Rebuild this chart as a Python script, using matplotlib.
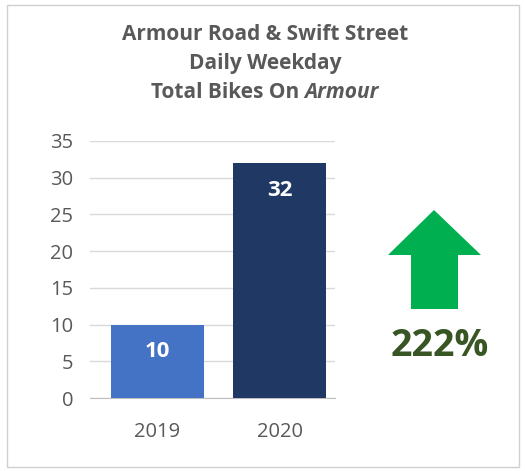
import matplotlib
matplotlib.use("Agg")
import matplotlib.pyplot as plt
from matplotlib.patches import Polygon, Rectangle

years = ["2019", "2020"]
bikes = [10, 32]
bar_colors = ["#4472C4", "#1F3864"]
y_ticks = [0, 5, 10, 15, 20, 25, 30, 35]
change_label = "222%"

plt.rcParams["font.family"] = ["Open Sans", "DejaVu Sans"]

W, H = 525, 471
fig = plt.figure(figsize=(W / 100, H / 100), dpi=100)
fig.patch.set_facecolor("white")

# outer frame
fig.patches.append(Rectangle((7 / W, 4 / H), 512 / W, 462 / H, transform=fig.transFigure,
                             fill=False, edgecolor="#D0D0D0", linewidth=1.0))

ax = fig.add_axes([90 / W, 1 - 398 / H, 245 / W, (398 - 141) / H])
x = range(len(years))
bars = ax.bar(x, bikes, width=0.76, color=bar_colors, zorder=3)
ax.set_xlim(-0.55, 1.45)
ax.set_ylim(0, 35)
ax.set_yticks(y_ticks)
ax.set_xticks(list(x))
ax.set_xticklabels(years)
ax.yaxis.grid(True, color="#D9D9D9", linewidth=1.0, zorder=0)
for s in ["top", "right", "left"]:
    ax.spines[s].set_visible(False)
ax.spines["bottom"].set_color("#BFBFBF")
ax.tick_params(axis="both", length=0, labelsize=14.5, labelcolor="#595959")
ax.tick_params(axis="y", pad=12)
ax.tick_params(axis="x", pad=17)

for rect, v in zip(bars, bikes):
    ax.annotate(str(v), (rect.get_x() + rect.get_width() / 2, v),
                xytext=(0, -12), textcoords="offset points", ha="center", va="top",
                color="white", fontsize=16, fontweight="bold")

# title
tsize = 15
title_lines = ["Armour Road & Swift Street", "Daily Weekday"]
fig.text(265 / W, 1 - 40 / H, title_lines[0], ha="center", va="baseline",
         fontsize=tsize, fontweight="bold", color="#595959")
fig.text(265 / W, 1 - 69 / H, title_lines[1], ha="center", va="baseline",
         fontsize=tsize, fontweight="bold", color="#595959")
t1 = fig.text(0, 1 - 98 / H, "Total Bikes On ", ha="left", va="baseline",
              fontsize=tsize, fontweight="bold", color="#595959")
t2 = fig.text(0, 1 - 98 / H, "Armour", ha="left", va="baseline",
              fontsize=tsize, fontweight="bold", fontstyle="italic", color="#595959")
fig.canvas.draw()
r = fig.canvas.get_renderer()
w1 = t1.get_window_extent(r).width
w2 = t2.get_window_extent(r).width
start = 265 - (w1 + w2) / 2
t1.set_x(start / W)
t2.set_x((start + w1) / W)

# up arrow
arrow_px = [(388, 255), (434, 210), (481, 255), (458, 255), (458, 309),
            (411, 309), (411, 255)]
fig.patches.append(Polygon([(px / W, 1 - py / H) for px, py in arrow_px],
                           closed=True, transform=fig.transFigure,
                           facecolor="#00B050", edgecolor="none"))
fig.text(440 / W, 1 - 356 / H, change_label, ha="center", va="baseline",
         fontsize=27, fontweight="bold", color="#375623")

fig.savefig("out.png", dpi=100, facecolor="white")
